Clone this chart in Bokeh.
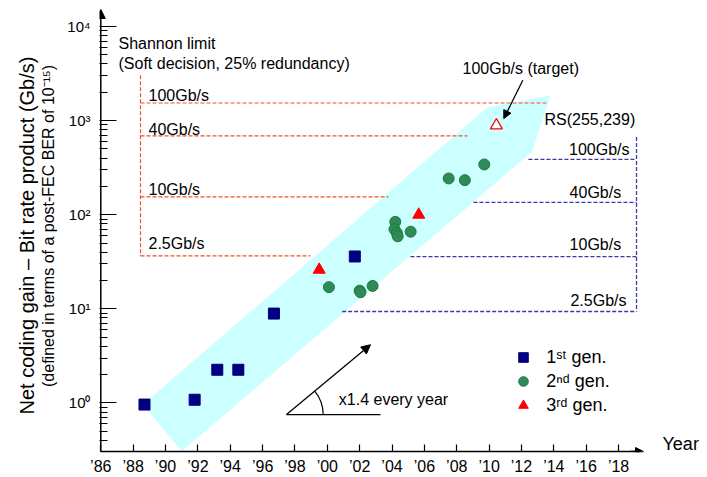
import math
from bokeh.plotting import figure
from bokeh.models import (Range1d, FixedTicker, Label, Arrow, NormalHead,
                          Legend, LegendItem, PolyAnnotation, Title)
from bokeh.embed import file_html
from bokeh.resources import INLINE

# ---------------- data ----------------
gen1_year = [1988.7, 1991.8, 1993.2, 1994.5, 1996.7, 2001.7]
gen1_val = [0.96, 1.08, 2.25, 2.25, 8.9, 36.0]

gen2_year = [2000.1, 2002.0, 2002.05, 2002.8, 2004.2, 2004.15, 2004.3,
             2004.35, 2005.15, 2007.5, 2008.5, 2009.7]
gen2_val = [17.0, 15.6, 15.0, 17.5, 84.0, 70.0, 64.0, 59.0, 66.0, 243.0,
            233.0, 342.0]

gen3_year = [1999.5, 2005.65]
gen3_val = [26.0, 100.0]

target_year = [2010.45]
target_val = [890.0]

# trend band (vertices)
band_year = [1988.6, 2009.9, 2013.8, 2012.65, 1991.0]
band_val = [0.96, 1390.0, 1860.0, 466.0, 0.307]

# Shannon limit (soft decision, 25% redundancy)
rate_labels = ["100Gb/s", "40Gb/s", "10Gb/s", "2.5Gb/s"]
shannon_val = [1540.0, 690.0, 155.0, 36.5]
shannon_end_year = [2013.59, 2008.65, 2003.78, 1998.96]

# RS(255,239)
rs_val = [387.0, 135.5, 35.9, 9.36]
rs_start_year = [2012.43, 2009.03, 2005.14, 2000.92]

year_ticks = list(range(1986, 2019, 2))
year_tick_labels = ["’86", "’88", "’90", "’92", "’94", "’96", "’98", "’00",
                    "’02", "’04", "’06", "’08", "’10", "’12", "’14", "’16",
                    "’18"]
y_ticks = [1, 10, 100, 1000, 10000]
y_tick_labels = ["10⁰", "10¹", "10²", "10³", "10⁴"]

# ---------------- layout calibration (page pixels) ----------------
W, H = 707, 477
LEFT, BOTTOM = 99, 25
FB = H - BOTTOM               # frame bottom = x-axis line
X0, PX_YR = 100.3, 16.18      # px of 1986, px per year
Y0, PX_DEC = 403.3, 94.3      # px of 10^0, px per decade


def yr(px):
    return 1986 + (px - X0) / PX_YR


def val(py):
    return 10 ** ((Y0 - py) / PX_DEC)


FONT = "Liberation Sans"

p = figure(width=W, height=H, y_axis_type="log",
           x_range=Range1d(yr(LEFT), yr(W)),
           y_range=Range1d(val(FB), val(0)),
           output_backend="svg", toolbar_location=None,
           min_border_left=LEFT, min_border_right=0, min_border_top=0,
           min_border_bottom=BOTTOM)
p.grid.grid_line_color = None
p.outline_line_color = None
p.background_fill_color = "white"

# x axis
xa = p.xaxis[0]
xa.ticker = FixedTicker(ticks=year_ticks, minor_ticks=[])
xa.major_label_overrides = {t: l for t, l in zip(year_ticks, year_tick_labels)}
xa.bounds = (1986, yr(640))
xa.axis_line_color = "black"
xa.axis_line_width = 1.5
xa.major_tick_in = 7
xa.major_tick_out = 0
xa.minor_tick_in = 0
xa.minor_tick_out = 0
xa.major_tick_line_color = "black"
xa.major_tick_line_width = 1.2
xa.major_label_standoff = 6
xa.major_label_text_font = FONT
xa.major_label_text_font_size = "16px"
xa.major_label_text_color = "black"

# y axis
ya = p.yaxis[0]
ya.ticker = FixedTicker(ticks=y_ticks,
                        minor_ticks=[m * 10 ** k for k in range(-1, 4)
                                     for m in range(2, 10)])
ya.major_label_overrides = {t: l for t, l in zip(y_ticks, y_tick_labels)}
ya.axis_line_color = None
ya.major_tick_in = 17
ya.major_tick_out = 0
ya.minor_tick_in = 8
ya.minor_tick_out = 0
ya.major_tick_line_color = "black"
ya.minor_tick_line_color = "black"
ya.major_tick_line_width = 1.2
ya.minor_tick_line_width = 1.0
ya.major_label_standoff = 9
ya.major_label_text_font = FONT
ya.major_label_text_font_size = "15px"
ya.major_label_text_color = "black"
ya.axis_label = "(defined in terms of a post-FEC BER of 10⁻¹⁵)"
ya.axis_label_text_font = FONT
ya.axis_label_text_font_size = "16px"
ya.axis_label_text_font_style = "normal"
ya.axis_label_text_color = "black"
ya.axis_label_standoff = 7

p.add_layout(Title(text="Net coding gain – Bit rate product (Gb/s)",
                   text_font=FONT, text_font_size="20px",
                   text_font_style="normal", text_color="black",
                   align="left", offset=FB - 415, standoff=0,
                   vertical_align="bottom"), "left")

# band
p.add_layout(PolyAnnotation(xs=band_year, ys=band_val, fill_color="#ccffff",
                            fill_alpha=1.0, line_color=None, level="underlay"))

# Shannon limit bracket (red dashed)
red = "#f2502a"
sh_x = yr(140)
p.segment(x0=[sh_x] * len(shannon_val), y0=shannon_val,
          x1=shannon_end_year, y1=shannon_val,
          line_color=red, line_dash="4 2", line_width=1.2)
p.segment(x0=[sh_x], y0=[val(75)], x1=[sh_x], y1=[shannon_val[-1]],
          line_color=red, line_dash="4 2", line_width=1.2)

# RS bracket (blue dashed)
blue = "#3a3aa6"
rs_x = yr(636)
p.segment(x0=rs_start_year, y0=rs_val, x1=[rs_x] * len(rs_val), y1=rs_val,
          line_color=blue, line_dash="4 2", line_width=1.3)
p.segment(x0=[rs_x], y0=[val(136.7)], x1=[rs_x], y1=[rs_val[-1]],
          line_color=blue, line_dash="4 2", line_width=1.3)

# markers
r1 = p.scatter(gen1_year, gen1_val, marker="square", size=11,
               fill_color="#000080", line_color="#000080")
r2 = p.scatter(gen2_year, gen2_val, marker="circle", size=11,
               fill_color="#2e8b57", line_color="#1c7a3a", line_width=1)
r3 = p.scatter(gen3_year, gen3_val, marker="triangle", size=12,
               fill_color="#ff0000", line_color="#ff0000")
p.scatter(target_year, target_val, marker="triangle", size=12,
          fill_color="white", line_color="#ff0000", line_width=1.3)

legend = Legend(items=[LegendItem(label="1ˢᵗ gen.", renderers=[r1]),
                       LegendItem(label="2ⁿᵈ gen.", renderers=[r2]),
                       LegendItem(label="3ʳᵈ gen.", renderers=[r3])],
                location=(523.3 - 14 - LEFT, FB - (358.3 - 12 + 72)),
                glyph_width=28, glyph_height=24,
                label_height=24, spacing=0, padding=0, margin=0,
                label_standoff=9, border_line_color=None,
                background_fill_alpha=0, label_text_font=FONT,
                label_text_font_size="18px", label_text_color="black")
p.add_layout(legend)


def lab(text, px, py, size="16px", align="left"):
    p.add_layout(Label(x=yr(px), y=val(py), text=text, text_font=FONT,
                       text_font_size=size, text_align=align,
                       text_baseline="middle", text_color="black"))


lab("Shannon limit", 118, 43.3)
lab("(Soft decision, 25% redundancy)", 118, 63.3)
for t, py in zip(rate_labels, [95, 129.3, 189.3, 243.3]):
    lab(t, 148, py)
lab("100Gb/s (target)", 462, 68.3)
lab("RS(255,239)", 544, 119.3)
for t, px, py in zip(rate_labels, [629, 620.7, 620.7, 626],
                     [149.3, 192, 245, 301]):
    lab(t, px, py, align="right")
lab("x1.4 every year", 338.3, 400)
lab("Year", 662, FB - 8, size="18px")

# axis arrow heads
p.add_layout(Arrow(end=NormalHead(size=8, fill_color="black",
                                  line_color="black"),
                   x_start=yr(630), y_start=val(FB),
                   x_end=yr(643), y_end=val(FB), line_width=1.5))
p.add_layout(Arrow(end=NormalHead(size=9, fill_color="black",
                                  line_color="black"),
                   x_start=yr(100.3), y_start=val(FB),
                   x_end=yr(100.3), y_end=val(9), line_width=1.5))

# target arrow
p.add_layout(Arrow(end=NormalHead(size=8, fill_color="black",
                                  line_color="black"),
                   x_start=yr(522.3), y_start=val(80),
                   x_end=yr(503.3), y_end=val(118.3), line_width=1.3))

# growth-rate sketch
p.add_layout(Arrow(end=NormalHead(size=9, fill_color="black",
                                  line_color="black"),
                   x_start=yr(286), y_start=val(415),
                   x_end=yr(370), y_end=val(345), line_width=1.3))
p.segment(x0=[yr(286)], y0=[val(415)], x1=[yr(380)], y1=[val(415)],
          line_color="black", line_width=1.3)
p.arc(x=[yr(286)], y=[val(415)], radius=36.7, radius_units="screen",
      start_angle=0, end_angle=math.atan2(70, 84), line_color="black",
      line_width=1.2)

open("out.html", "w").write(file_html(p, INLINE))
